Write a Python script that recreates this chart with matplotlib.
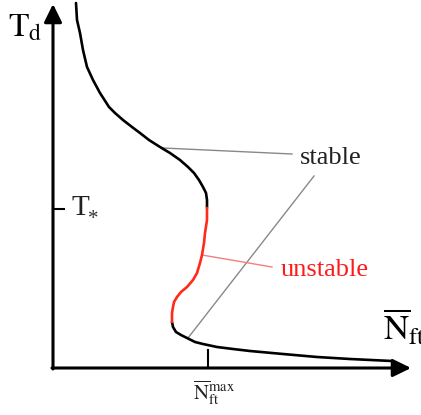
import numpy as np
import matplotlib.pyplot as plt

# curve, origin at the axes corner
upper_x = [23, 24, 27, 30, 34, 40, 47, 56, 62, 70, 79, 87, 96, 107, 117, 127,
           135, 141, 146, 150, 153, 154, 154]
upper_y = [365, 348, 335, 318, 301, 288, 275, 261, 255, 248, 241, 235, 228, 221,
           215, 208, 201, 195, 188, 181, 175, 168, 160]
mid_x = [154, 154, 152, 151, 149, 147, 144, 140, 134, 128, 124, 121, 120, 119, 119]
mid_y = [160, 148, 135, 125, 113, 105, 95, 88, 81, 76, 71, 66, 61, 55, 46]
lower_x = [119, 120, 123, 128, 134, 142, 150, 164, 180, 197, 230, 264, 297, 339]
lower_y = [46, 41, 36, 33, 30, 26, 24, 21, 19, 17, 14, 11, 9, 7]

t_star = 159
n_max = 155

# pointer lines to the labels
stable_a_x = [110, 239]
stable_a_y = [220, 214]
stable_b_x = [135, 261]
stable_b_y = [30, 192]
unstable_x = [149, 219]
unstable_y = [113, 101]

plt.rcParams['mathtext.fontset'] = 'stix'
plt.rcParams['font.family'] = 'Liberation Serif'

fig = plt.figure(figsize=(4.21, 4.15), dpi=100)
ax = fig.add_axes([0, 0, 1, 1])
ax.set_xlim(-53, 368)
ax.set_ylim(-47, 368)
ax.axis('off')

# axes arrows
arr = dict(arrowstyle='-|>,head_length=0.55,head_width=0.27', color='black',
           lw=2.2, mutation_scale=20, shrinkA=0, shrinkB=0)
ax.annotate('', xy=(0, 364), xytext=(0, -1), arrowprops=arr)
ax.annotate('', xy=(358, 0), xytext=(-1, 0), arrowprops=arr)

# ticks
ax.plot([0, 11], [t_star, t_star], color='black', lw=1.5)
ax.plot([n_max, n_max], [0, 18], color='black', lw=1.5)

# pointer lines
ax.plot(stable_a_x, stable_a_y, color='#888888', lw=1)
ax.plot(stable_b_x, stable_b_y, color='#888888', lw=1)
ax.plot(unstable_x, unstable_y, color='#f28080', lw=1)

# the curve
kw = dict(lw=1.9, solid_capstyle='round', solid_joinstyle='round')
ax.plot(upper_x, upper_y, color='black', **kw)
ax.plot(lower_x, lower_y, color='black', **kw)
ax.plot(mid_x, mid_y, color='#ff2a1a', **kw)

# labels
ax.text(-28, 340, r'$\mathrm{T_d}$', fontsize=24, ha='center', va='center')
ax.text(19, 160, 'T', fontsize=21, ha='left', va='center', color='#222222')
ax.text(35, 148, '*', fontsize=15, ha='left', va='center', color='#333333')
ax.text(330, 40, r'$\overline{\mathrm{N}}_{\mathrm{ft}}$', fontsize=25, ha='left', va='center')
ax.text(161, -25, r'$\overline{\mathrm{N}}_{\mathrm{ft}}^{\mathrm{max}}$', fontsize=15,
        ha='center', va='center', color='#222222')
ax.text(278, 210, 'stable', fontsize=19, ha='center', va='center', color='#222222')
ax.text(272, 98, 'unstable', fontsize=19, ha='center', va='center', color='#ff1a1a')

fig.savefig('out.png', dpi=100)
